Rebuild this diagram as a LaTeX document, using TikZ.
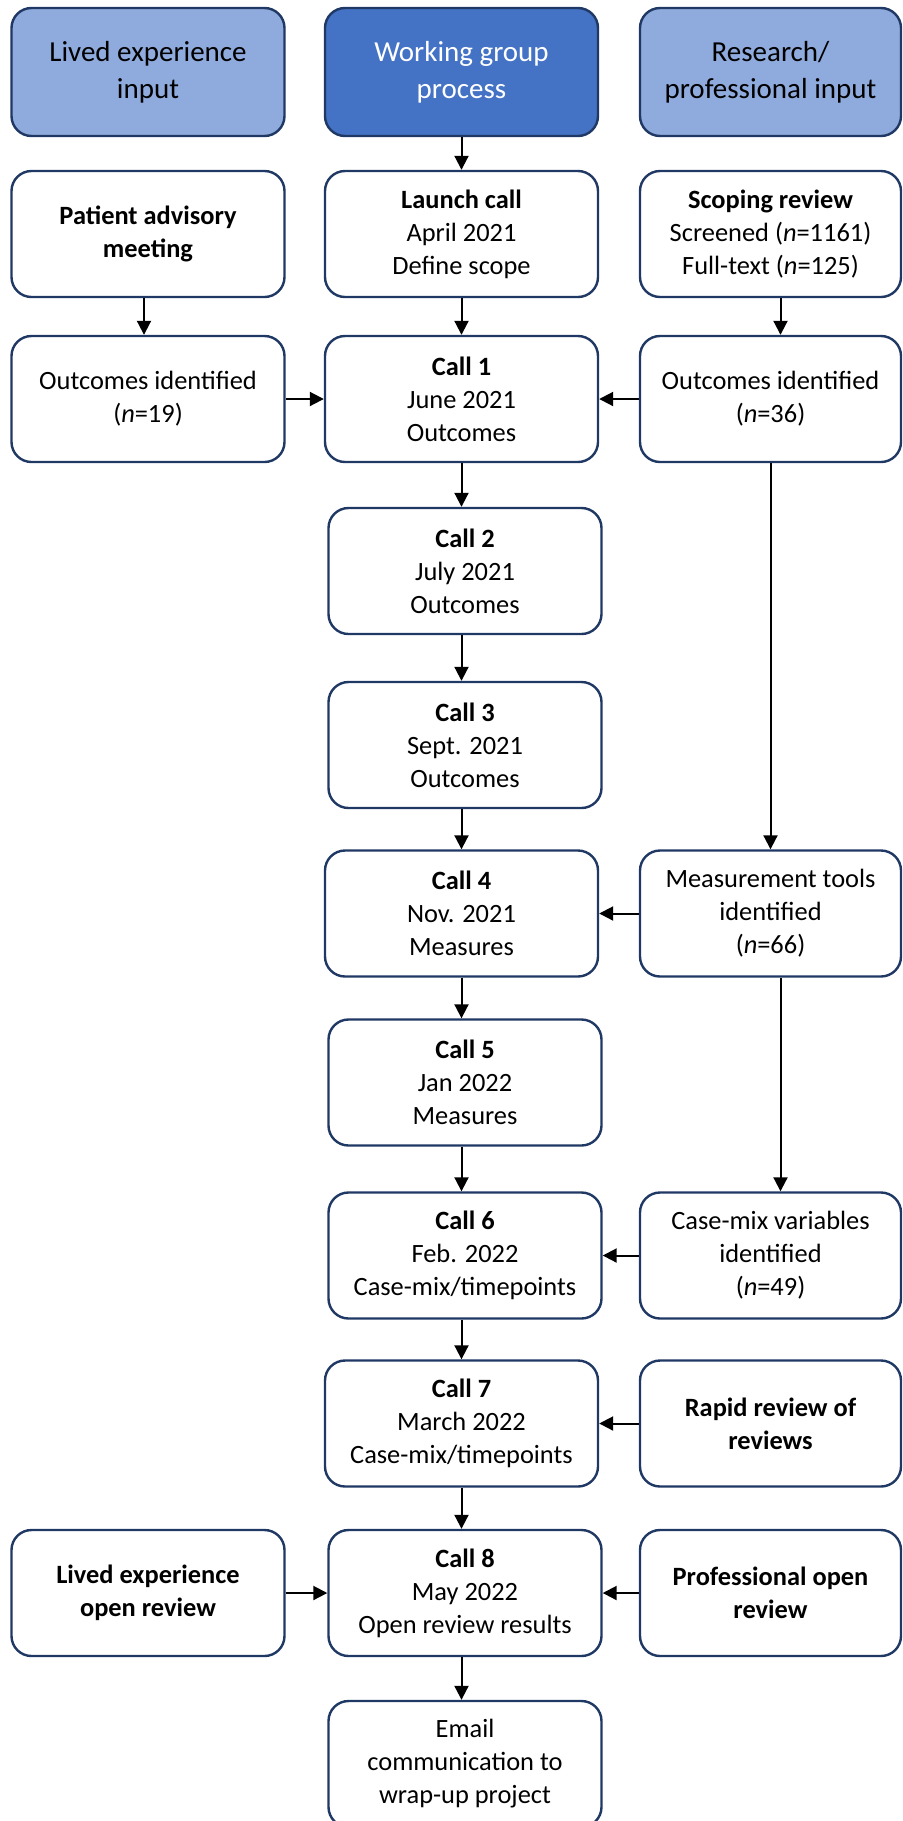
\documentclass[tikz,border=0pt]{standalone}
\usepackage{fontspec}
\setmainfont{Carlito}
\usepackage{tikz}
\usetikzlibrary{arrows.meta}
\definecolor{boxline}{RGB}{32,56,100}
\definecolor{headlight}{RGB}{143,170,220}
\definecolor{headdark}{RGB}{68,114,196}
\newcommand{\nn}{\textit{n}}

\begin{document}
\begin{tikzpicture}[x=0.5pt,y=-0.5pt,
    every node/.style={font=\fontsize{13.2}{16.5}\selectfont},
    stepbox/.style={draw=boxline, line width=1.2pt, rounded corners=10pt,
      fill=white, align=center, minimum width=136.5pt, minimum height=63pt,
      inner sep=2pt},
    sidebox/.style={stepbox, minimum width=130.5pt},
    headbox/.style={stepbox, fill=headlight, minimum height=64pt,
      font=\fontsize{14.5}{18.5}\selectfont},
    flow/.style={line width=1pt, -{Triangle[length=7pt,width=7pt]}}]
  \useasboundingbox (0,0) rectangle (903,1821);
  \clip (0,0) rectangle (903,1821);
  % headers
  \node[headbox] (hlived) at (148,72) {Lived experience\\input};
  \node[headbox,fill=headdark,text=white] (hwork) at (461.5,72)
  {Working group\\process};
  \node[headbox,minimum width=130.5pt] (hres) at (770.5,72)
  {Research/\\professional input};
  % first inputs
  \node[stepbox] (patient) at (148,234) {\textbf{Patient advisory}\\\textbf{meeting}};
  \node[stepbox] (launch) at (461.5,234) {\textbf{Launch call}\\April 2021\\Define scope};
  \node[sidebox] (scoping) at (770.5,234)
  {\textbf{Scoping review}\\Screened (\nn=1161)\\Full-text (\nn=125)};
  % outcomes
  \node[stepbox] (outlived) at (148,399) {Outcomes identified\\(\nn=19)};
  \node[stepbox] (call1) at (461.5,399) {\textbf{Call 1}\\June 2021\\Outcomes};
  \node[sidebox] (outres) at (770.5,399) {Outcomes identified\\(\nn=36)};
  \node[stepbox] (call2) at (465,571) {\textbf{Call 2}\\July 2021\\Outcomes};
  \node[stepbox] (call3) at (465,745) {\textbf{Call 3}\\Sept. 2021\\Outcomes};
  % measures
  \node[stepbox] (call4) at (461.5,913.5) {\textbf{Call 4}\\Nov. 2021\\Measures};
  \node[sidebox] (tools) at (770.5,913.5) {Measurement tools\\identified\\(\nn=66)};
  \node[stepbox] (call5) at (465,1082.5) {\textbf{Call 5}\\Jan 2022\\Measures};
  % case-mix
  \node[stepbox] (call6) at (465,1255.5) {\textbf{Call 6}\\Feb. 2022\\Case-mix/timepoints};
  \node[sidebox] (casemix) at (770.5,1255.5) {Case-mix variables\\identified\\(\nn=49)};
  \node[stepbox] (call7) at (461.5,1423.5) {\textbf{Call 7}\\March 2022\\Case-mix/timepoints};
  \node[sidebox] (rapid) at (770.5,1423.5) {\textbf{Rapid review of}\\\textbf{reviews}};
  % open review
  \node[stepbox] (livedrev) at (148,1593) {\textbf{Lived experience}\\\textbf{open review}};
  \node[stepbox] (call8) at (465,1593) {\textbf{Call 8}\\May 2022\\Open review results};
  \node[sidebox] (profrev) at (770.5,1593) {\textbf{Professional open}\\\textbf{review}};
  \node[stepbox] (email) at (465,1764) {Email\\communication to\\wrap-up project};
  % main line
  \foreach \a/\b in {hwork/launch,launch/call1,call1/call2,call2/call3,
    call3/call4,call4/call5,call5/call6,call6/call7,call7/call8,call8/email}{
    \draw[flow] (\a.south -| hwork) -- (\b.north -| hwork);
  }
  % side inputs
  \draw[flow] ([xshift=-2pt]patient.south) -- ([xshift=-2pt]outlived.north);
  \draw[flow] (outlived) -- (call1);
  \draw[flow] ([xshift=5pt]scoping.south) -- ([xshift=5pt]outres.north);
  \draw[flow] (outres) -- (call1);
  \draw[flow] (outres) -- (tools);
  \draw[flow] (tools) -- (call4);
  \draw[flow] ([xshift=5pt]tools.south) -- ([xshift=5pt]casemix.north);
  \draw[flow] (casemix) -- (call6);
  \draw[flow] (rapid) -- (call7);
  \draw[flow] (livedrev) -- (call8);
  \draw[flow] (profrev) -- (call8);
\end{tikzpicture}
\end{document}
